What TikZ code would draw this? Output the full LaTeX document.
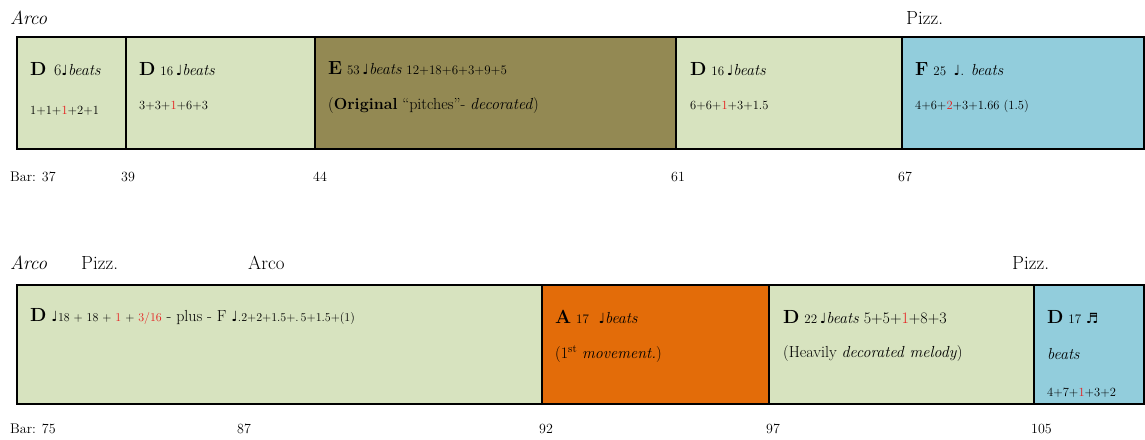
\documentclass[tikz,border=0pt]{standalone}
\usepackage{fontspec}
\setmainfont{Latin Modern Roman}
\newfontfamily\symf{DejaVu Sans}
\definecolor{lgreen}{RGB}{215,227,191}
\definecolor{olive}{RGB}{147,137,83}
\definecolor{lblue}{RGB}{146,205,220}
\definecolor{orng}{RGB}{227,108,9}
\definecolor{redn}{RGB}{230,30,30}
\newcommand{\qn}{{\symf\fontsize{14}{16}\selectfont ♩}}
\newcommand{\rd}[1]{\textcolor{redn}{#1}}
\newcommand{\kl}[1]{{\bfseries\fontsize{19}{21}\selectfont #1}}
\newcommand{\nm}[1]{{\fontsize{13}{15}\selectfont #1}}
\begin{document}
\begin{tikzpicture}[x=1pt,y=-1pt,
  seg/.style={draw=black,line width=1.8pt,anchor=north west,inner sep=0pt,outer sep=0pt},
  lbl/.style={anchor=west,inner sep=0pt,font=\fontsize{16}{18}\selectfont},
  sm/.style={anchor=west,inner sep=0pt,font=\fontsize{12.5}{14}\selectfont},
  bar/.style={anchor=west,inner sep=0pt,font=\fontsize{14}{16}\selectfont},
  play/.style={anchor=west,inner sep=0pt,font=\fontsize{19}{21}\selectfont}]
\useasboundingbox (0,0) rectangle (1145,439);
% row 1
\node[seg,fill=lgreen,minimum width=109pt,minimum height=112pt] (b1) at (17,37) {};
\node[seg,fill=lgreen,minimum width=189pt,minimum height=112pt] (b2) at (126,37) {};
\node[seg,fill=olive,minimum width=361pt,minimum height=112pt] (b3) at (315,37) {};
\node[seg,fill=lgreen,minimum width=226pt,minimum height=112pt] (b4) at (676,37) {};
\node[seg,fill=lblue,minimum width=242pt,minimum height=112pt] (b5) at (902,37) {};
% row 2
\node[seg,fill=lgreen,minimum width=525pt,minimum height=119pt] (c1) at (17,285) {};
\node[seg,fill=orng,minimum width=227pt,minimum height=119pt] (c2) at (542,285) {};
\node[seg,fill=lgreen,minimum width=265pt,minimum height=119pt] (c3) at (769,285) {};
\node[seg,fill=lblue,minimum width=110pt,minimum height=119pt] (c4) at (1034,285) {};
% playing labels
\node[play] (p1) at (10,18) {\itshape Arco};
\node[play] (p2) at (906,18) {Pizz.};
\node[play] (p3) at (10,263) {\itshape Arco};
\node[play] (p4) at (81,263) {Pizz.};
\node[play] (p5) at (248,263) {Arco};
\node[play] (p6) at (1012,263) {Pizz.};
% row 1 texts
\node[lbl] (t1a) at (30,69) {\kl{D} \,6\qn\textit{beats}};
\node[sm] (t1b) at (30,111) {1+1+\rd{1}+2+1};
\node[lbl] (t2a) at (139,69) {\kl{D} \nm{16}\,\qn\textit{beats}};
\node[sm] (t2b) at (139,106) {3+3+\rd{1}+6+3};
\node[lbl] (t3a) at (328,69) {\kl{E} \nm{53}\,\qn\textit{beats} \nm{12+18+6+3+9+5}};
\node[lbl] (t3b) at (328,106) {(\textbf{Original} ``pitches''- \textit{decorated})};
\node[lbl] (t4a) at (690,69) {\kl{D} \nm{16}\,\qn\textit{beats}};
\node[sm] (t4b) at (690,106) {6+6+\rd{1}+3+1.5};
\node[lbl] (t5a) at (915,69) {\kl{F} \nm{25} \,\qn. \textit{beats}};
\node[sm] (t5b) at (915,106) {4+6+\rd{2}+3+1.66 (1.5)};
% row 2 texts
\node[lbl] (u1) at (30,317) {\kl{D} \qn{\fontsize{12}{14}\selectfont 18 + 18 + \rd{1} + \rd{3/16}} - plus - F \qn{\fontsize{12}{14}\selectfont.2+2+1.5+.\,5+1.5+(1)}};
\node[lbl] (u2a) at (555,317) {\kl{A} \nm{17} \ \qn\textit{beats}};
\node[lbl] (u2b) at (555,354) {(1\textsuperscript{st} \textit{movement.})};
\node[lbl] (u3a) at (783,317) {\kl{D} \nm{22}\,\qn\textit{beats} 5+5+\rd{1}+8+3};
\node[lbl] (u3b) at (783,354) {(Heavily \textit{decorated melody})};
\node[lbl] (u4a) at (1047,317) {\kl{D} \nm{17} {\symf\fontsize{14}{16}\selectfont ♬}};
\node[lbl] (u4b) at (1047,354) {\textit{beats}};
\node[sm] (u4c) at (1047,393) {4+7+\rd{1}+3+2};
% bar numbers
\node[bar] (r1) at (10,177) {Bar: 37};
\node[bar] (r2) at (121,177) {39};
\node[bar] (r3) at (313,177) {44};
\node[bar] (r4) at (671,177) {61};
\node[bar] (r5) at (898,177) {67};
\node[bar] (s1) at (10,429) {Bar: 75};
\node[bar] (s2) at (237,429) {87};
\node[bar] (s3) at (539,429) {92};
\node[bar] (s4) at (766,429) {97};
\node[bar] (s5) at (1031,429) {105};
\end{tikzpicture}
\end{document}
